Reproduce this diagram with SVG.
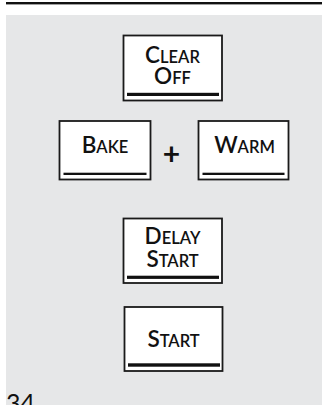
<svg xmlns="http://www.w3.org/2000/svg" width="322" height="405" viewBox="0 0 322 405">
<style>
.btn{fill:#fff;stroke:#1a1a1a;stroke-width:1.8}
.bar{fill:#111}
.t{font-family:Lato,"Open Sans","Liberation Sans",sans-serif;fill:#111;text-anchor:middle;font-weight:600}
.big{font-size:22.5px}
.sm{font-size:16.5px}
</style>
<rect x="0" y="0" width="322" height="405" fill="#fff"/>
<rect x="6" y="2" width="316" height="2.4" fill="#111"/>
<rect x="6" y="15" width="316" height="390" fill="#e6e7e8"/>
<g id="clear-off">
<rect class="btn" x="123.5" y="35.5" width="98.5" height="65"/>
<rect class="bar" x="127" y="92.8" width="92" height="3.2"/>
<text class="t big" x="172.5" y="62.7">C<tspan class="sm">LEAR</tspan></text>
<text class="t big" x="172.5" y="83.5">O<tspan class="sm">FF</tspan></text>
</g>
<g id="bake">
<rect class="btn" x="59.5" y="121" width="91" height="58.5"/>
<rect class="bar" x="63.5" y="172.7" width="83" height="2.3"/>
<text class="t big" x="105" y="153">B<tspan class="sm">AKE</tspan></text>
</g>
<g id="plus">
<text class="t" x="171.5" y="164.5" style="font-size:30px;font-weight:700">+</text>
</g>
<g id="warm">
<rect class="btn" x="198.5" y="121" width="90" height="58.5"/>
<rect class="bar" x="202.5" y="172.7" width="82" height="2.3"/>
<text class="t big" x="244.5" y="153">W<tspan class="sm">ARM</tspan></text>
</g>
<g id="delay-start">
<rect class="btn" x="123.5" y="218.5" width="98.5" height="64.5"/>
<rect class="bar" x="127" y="275.7" width="92" height="3.2"/>
<text class="t big" x="172.5" y="244">D<tspan class="sm">ELAY</tspan></text>
<text class="t big" x="172.5" y="266.5">S<tspan class="sm">TART</tspan></text>
</g>
<g id="start">
<rect class="btn" x="124.5" y="307" width="98" height="64"/>
<rect class="bar" x="128" y="363.3" width="92" height="3.4"/>
<text class="t big" x="173.5" y="346.7">S<tspan class="sm">TART</tspan></text>
</g>
<g id="connectors"></g>
<text x="6" y="412" style="font-family:Lato,'Liberation Sans',sans-serif;font-size:25px;fill:#111">34</text>
</svg>
